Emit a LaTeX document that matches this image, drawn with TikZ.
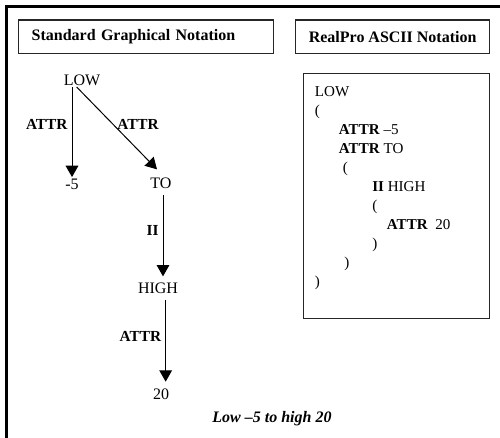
\documentclass[tikz,border=0pt]{standalone}
\usepackage{fontspec}
\setmainfont{Liberation Serif}
\usetikzlibrary{positioning}
\usetikzlibrary{arrows.meta}

\begin{document}
\begin{tikzpicture}[x=0.75pt,y=-0.75pt,
		every node/.style={font=\fontsize{12}{14.2}\selectfont, inner sep=1pt},
		arr/.style={draw=black, line width=0.75pt, -{Triangle[width=9.5pt,length=8.5pt]}},
		lbl/.style={font=\fontsize{11.5}{14.2}\selectfont\bfseries, inner sep=3pt},
		header/.style={draw=black!85, line width=1pt, minimum height=25pt, anchor=north west, font=\fontsize{12}{14.2}\selectfont\bfseries}]
		\useasboundingbox (0,0) rectangle (500,438);
		% outer frame
		\draw[line width=2.25pt] (6.5,442) -- (6.5,6.5) -- (504,6.5);
		% titles
		\node[header, text width=171.75pt, inner xsep=9.75pt, align=left] (gtitle) at (18,19.5) {Standard Graphical Notation};
		\node[header, minimum width=145.5pt] (atitle) at (295,19.5) {RealPro ASCII Notation};
		% tree
		\node (low) at (82,80) {LOW};
		\node (m5) at (72,184) {-5};
		\node (to) at (161,183) {TO};
		\node (high) at (158,288) {HIGH};
		\node (n20) at (161,394) {20};
		\draw[arr] (low.south -| m5) -- node[lbl, left, pos=0.42] {ATTR} (m5);
		\draw[arr] ([xshift=-4pt]low.south) -- node[lbl, right, pos=0.45] {ATTR} ([shift={(-3pt,5pt)}]to.north);
		\draw[arr, shorten <=4pt, shorten >=3.5pt] ([xshift=1.5pt]to.south) -- node[lbl, left, pos=0.45] {II} ([xshift=1.5pt]to |- high.north);
		\draw[arr, shorten <=4pt, shorten >=4pt] ([xshift=3.5pt]high.south -| n20) -- node[lbl, left, pos=0.45] {ATTR} ([xshift=3.5pt]n20.north);
		% ascii form
		\node[draw=black!85, line width=0.8pt, minimum width=139.5pt, minimum height=183.75pt, anchor=north west, inner sep=0pt] (ascii) at (302.7,73.3) {};
		\node[anchor=north west, align=left, inner sep=0pt, font=\fontsize{11.3}{14.2}\selectfont] (code) at ([shift={(9pt,-10pt)}]ascii.north west) {LOW\\
			(\\
			\hspace*{18pt}\textbf{ATTR} --5\\
			\hspace*{18pt}\textbf{ATTR} TO\\
			\hspace*{21pt}(\\
			\hspace*{43pt}\textbf{II} HIGH\\
			\hspace*{43pt}(\\
			\hspace*{54pt}\textbf{ATTR}\ \ 20\\
			\hspace*{43pt})\\
			\hspace*{22pt})\\
			)};
		\node[font=\fontsize{12}{14.2}\selectfont\bfseries\itshape] (caption) at (272,419) {Low --5 to high 20};
		\end{tikzpicture}
\end{document}
